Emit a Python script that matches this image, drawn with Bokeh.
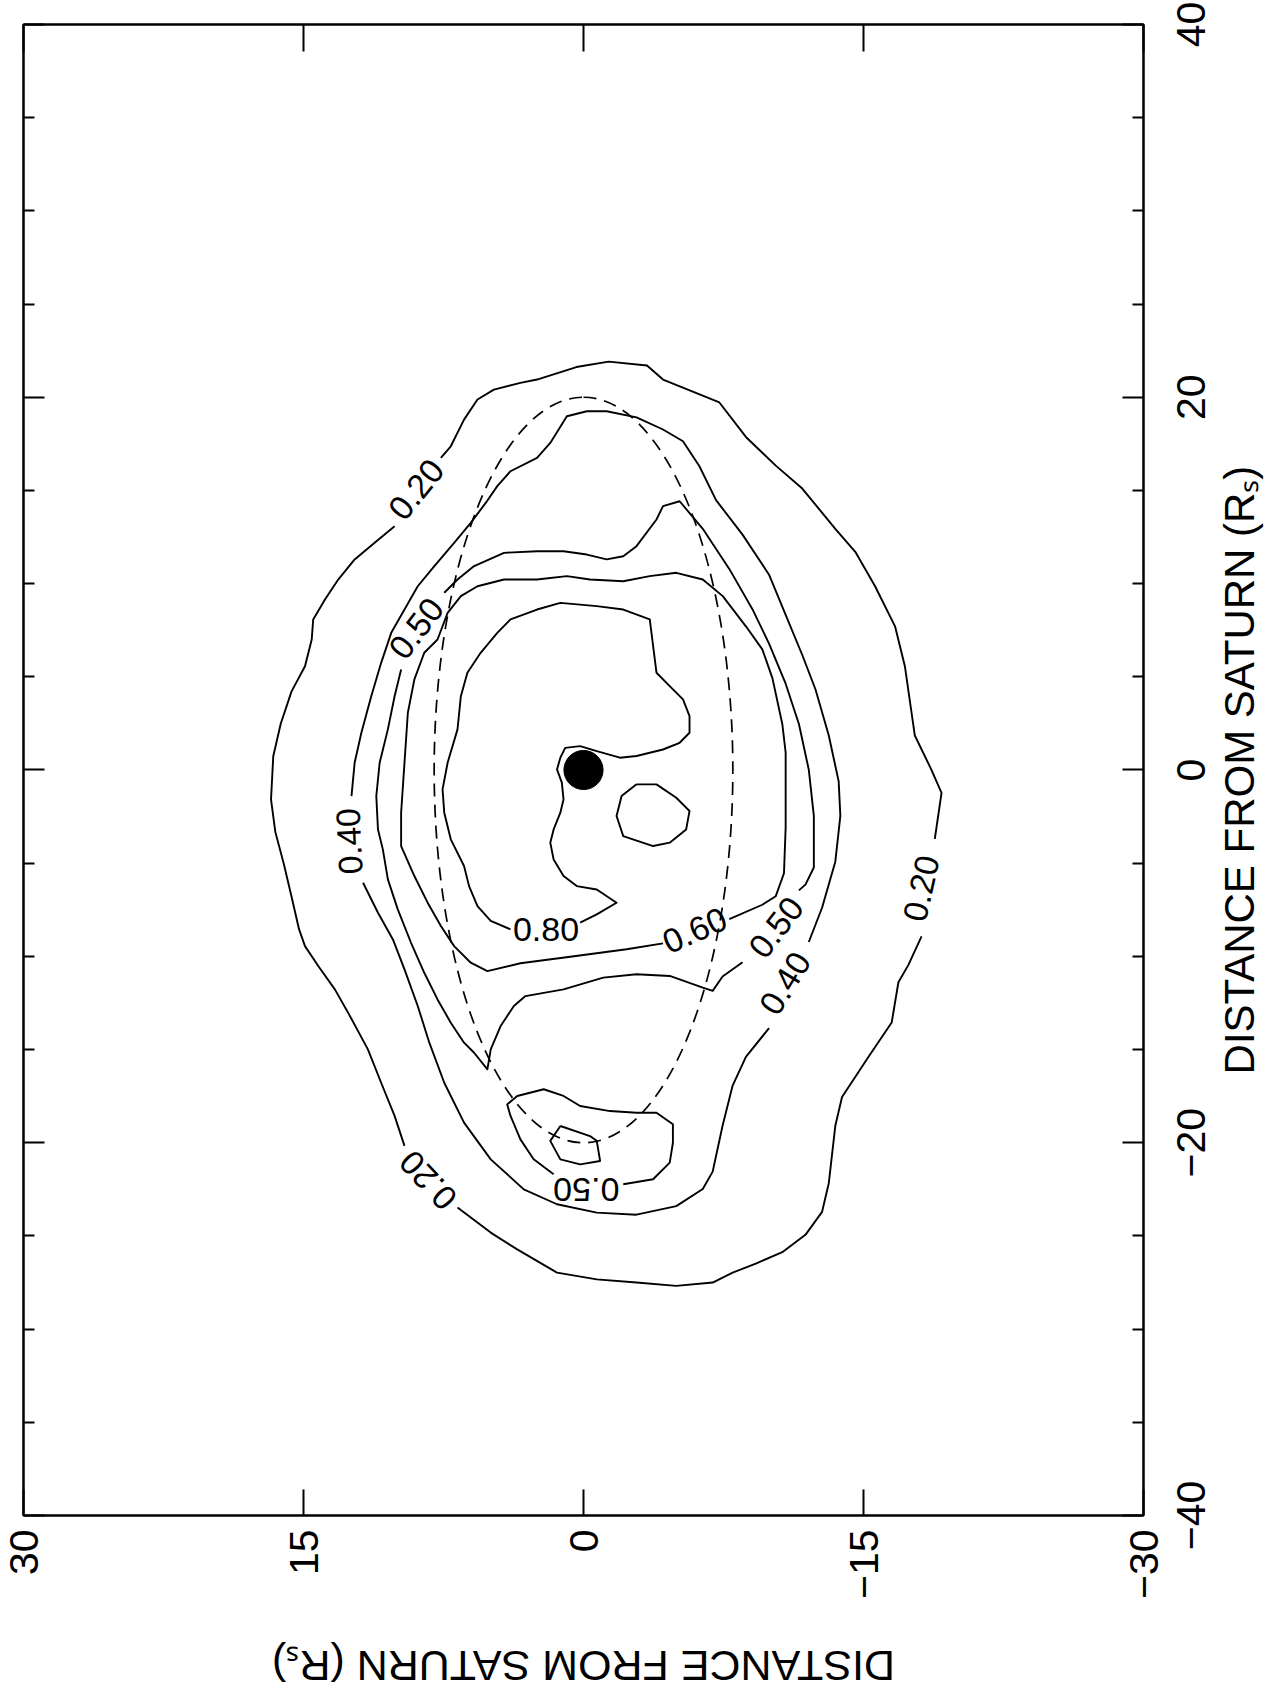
import math
from bokeh.plotting import figure
from bokeh.models import Range1d, LinearAxis, FixedTicker, ColumnDataSource
from bokeh.embed import file_html
from bokeh.resources import INLINE
from bokeh.core.properties import value

# The reference is a scanned page turned 90 degrees counter-clockwise.
# The chart is built in its original orientation and the whole (square) figure is turned with CSS.

# ---------------- axes (original orientation) ----------------
x_ticks = [-40, -20, 0, 20, 40]
x_tick_labels = ["\u221240", "\u221220", "0", "20", "40"]
x_minor_ticks = [-35, -30, -25, -15, -10, -5, 5, 10, 15, 25, 30, 35]
y_ticks = [30, 15, 0, -15, -30]
y_tick_labels = ["30", "15", "0", "\u221215", "\u221230"]
axis_title = "DISTANCE FROM SATURN (R\u209b)"

# ---------------- contour 0.20 (three pieces, gaps for labels) ----------------
c20a_x = [16.75, 17.37, 18.80, 19.88, 20.41, 20.77, 20.95, 21.62, 21.91, 21.70, 20.95, 19.72, 17.87, 16.33, 15.10,
          12.94, 11.71, 9.86, 7.71, 5.55, 1.85, 0.01, -1.23, -3.69]
c20a_y = [7.64, 7.11, 6.40, 5.68, 4.80, 3.38, 2.49, 0.38, -1.35, -3.40, -4.26, -7.28, -8.70, -10.30, -11.72,
          -13.49, -14.56, -15.62, -16.69, -17.22, -17.75, -18.64, -19.18, -18.82]
c20b_x = [-8.93, -10.47, -11.39, -13.55, -15.39, -17.55, -19.09, -22.17, -23.71, -24.94, -25.87, -26.48, -26.97,
          -27.50, -27.68, -27.50, -27.33, -26.97, -25.72, -24.82, -23.48]
c20b_y = [-18.11, -17.40, -16.87, -16.51, -15.27, -13.85, -13.49, -13.14, -12.78, -11.89, -10.65, -9.23, -7.99,
          -6.92, -4.97, -2.84, -0.71, 1.42, 3.55, 4.97, 6.75]
c20c_x = [-20.17, -18.56, -16.78, -14.99, -13.02, -11.77, -10.52, -9.45, -8.54, -6.80, -5.06, -3.32, -1.58, 0.74,
          2.48, 4.22, 5.57, 7.00, 8.08, 9.15, 10.22, 11.30, 12.19, 13.08]
c20c_y = [9.59, 10.12, 10.84, 11.55, 12.61, 13.32, 14.21, 14.92, 15.24, 15.64, 16.05, 16.51, 16.74, 16.62, 16.22,
          15.64, 14.92, 14.56, 14.48, 13.85, 13.14, 12.26, 11.19, 10.12]

# ---------------- contour 0.40 ----------------
c40a_x = [-1.40, 0.39, 2.00, 3.96, 5.75, 7.36, 8.61, 9.86, 10.94, 12.19, 13.26, 14.33, 15.23, 16.03, 16.75, 17.55,
          18.98, 19.25, 19.25, 18.92, 18.27, 17.64, 16.30, 14.48, 12.63, 10.48, 8.32, 6.17, 4.32, 1.85,
          -0.61, -2.46, -4.92, -7.39, -9.23]
c40a_y = [12.43, 12.26, 11.90, 11.37, 10.84, 10.30, 9.59, 8.88, 7.99, 6.93, 6.04, 5.24, 4.62, 3.91, 2.49, 1.78,
          0.89, -0.18, -1.24, -2.84, -4.26, -5.33, -6.21, -7.10, -8.52, -9.94, -10.83, -11.72, -12.43, -13.14,
          -13.67, -13.76, -13.49, -12.78, -12.07]
c40b_x = [-13.85, -15.39, -16.93, -19.09, -21.55, -22.48, -23.40, -23.86, -23.75, -23.30, -22.50, -20.89, -18.92,
          -16.78, -14.63, -12.66, -10.70, -9.09, -7.66, -6.05]
c40b_y = [-9.94, -8.70, -7.99, -7.45, -6.92, -6.39, -4.97, -2.84, -0.71, 1.42, 3.20, 4.97, 6.40, 7.46, 8.26,
          8.88, 9.59, 10.21, 11.01, 11.81]

# ---------------- contour 0.50 (main loop + southern lobe) ----------------
c50a_x = [9.51, 10.22, 10.94, 11.65, 11.74, 11.74, 11.56, 11.30, 11.47, 12.01, 13.44, 14.16, 14.42, 12.94, 10.79,
          8.63, 6.78, 4.63, 2.47, 0.01, -2.46, -5.23, -6.15, -6.46]
c50a_y = [7.46, 6.75, 5.86, 4.26, 2.49, 1.07, -0.18, -1.24, -2.13, -2.84, -3.91, -4.26, -5.15, -6.39, -7.81,
          -9.05, -9.94, -10.83, -11.54, -12.07, -12.34, -12.34, -11.89, -11.54]
c50b_x = [-10.31, -11.08, -11.85, -11.68, -11.05, -10.96, -11.14, -11.77, -12.13, -12.66, -13.74, -14.99, -16.06,
          -15.17, -14.63, -13.56, -12.31, -10.88, -9.27, -7.48, -5.87, -4.26, -3.19, -1.40, 0.39, 2.18, 3.96, 5.39]
c50b_y = [-8.52, -7.45, -6.92, -6.39, -4.62, -2.84, -1.06, 1.07, 3.11, 3.73, 4.44, 4.97, 5.15, 5.86, 6.40, 7.11,
          7.82, 8.53, 9.24, 9.95, 10.48, 10.75, 11.01, 11.10, 10.92, 10.48, 10.12, 9.77]
c50c_x = [-21.69, -20.89, -19.82, -18.56, -17.94, -17.49, -17.13, -17.49, -18.03, -18.30, -18.39, -18.39, -19.01,
          -20.00, -21.07, -21.96, -22.23]
c50c_y = [1.60, 2.67, 3.38, 3.91, 4.09, 3.55, 2.13, 1.07, 0.18, -1.42, -2.84, -3.91, -4.79, -4.79, -4.62, -3.73,
          -2.13]

# ---------------- contour 0.60 (main loop + small southern loop) ----------------
c60a_x = [-9.30, -9.62, -10.02, -10.37, -10.79, -10.34, -9.45, -8.37, -7.12, -5.69, -4.08, -2.29, 0.39, 3.07, 4.86,
          6.29, 7.00, 8.43, 9.33, 9.86, 10.22, 10.22, 10.40, 10.22, 10.13, 10.40, 10.58, 10.22, 9.33, 7.71, 6.47,
          4.93, 2.47, 0.93, -3.07, -5.54, -6.77, -7.23, -8.00]
c60a_y = [-4.26, -2.31, 0.71, 3.38, 5.15, 6.04, 6.93, 7.64, 8.35, 9.06, 9.77, 9.77, 9.59, 9.41, 9.06, 8.53, 7.82,
          7.28, 6.57, 5.68, 4.26, 2.49, 0.89, -0.35, -2.13, -3.55, -4.97, -6.39, -7.46, -8.70, -9.58, -10.12,
          -10.65, -10.83, -10.83, -10.74, -10.30, -9.58, -7.81]
c60b_x = [-19.10, -19.64, -19.90, -20.98, -21.16, -20.89, -19.90, -19.10]
c60b_y = [1.24, -0.35, -0.71, -0.89, 0.18, 1.24, 1.78, 1.24]

# ---------------- contour 0.80 ----------------
c80a_x = [-8.55, -8.10, -7.30, -6.23, -5.15, -3.72, -2.29, -1.04, 0.39, 2.18, 3.96, 5.22, 6.29, 7.36, 8.08, 8.61,
          8.97, 8.79, 8.61, 8.08, 6.65, 5.22, 4.50, 3.79, 2.89, 2.00, 1.46, 1.10, 0.75, 0.66, 1.01, 1.28,
          1.19, 0.66, 0.03, -0.68, -1.58, -2.29, -3.19, -3.90, -4.80, -5.69, -6.23, -6.41, -7.12, -7.75, -8.19]
c80a_y = [3.91, 4.97, 5.68, 6.13, 6.40, 7.11, 7.46, 7.55, 7.28, 6.75, 6.57, 6.22, 5.51, 4.62, 3.91, 2.49, 1.24,
          -0.71, -2.13, -3.55, -3.73, -3.91, -4.62, -5.33, -5.68, -5.68, -5.15, -4.26, -2.84, -1.95, -0.71, 0.18,
          0.98, 1.24, 1.42, 1.16, 1.07, 1.24, 1.60, 1.78, 1.60, 1.07, 0.36, -0.71, -1.77, -0.71, 0.18]
c80b_x = [-0.77, -0.77, -1.49, -2.20, -3.19, -3.90, -4.08, -3.55, -2.47, -1.40, -0.77]
c80b_y = [-2.84, -3.91, -4.97, -5.68, -5.50, -4.62, -3.73, -2.13, -1.77, -2.04, -2.84]

# ---------------- contour labels ----------------
lab_text = ["0.20", "0.20", "0.20", "0.40", "0.40", "0.50", "0.50", "0.50", "0.60", "0.80"]
lab_x = [15.05, -6.35, -22.00, -3.82, -11.45, 7.59, -8.45, -22.50, -8.61, -8.55]
lab_y = [8.95, -18.11, 8.31, 12.53, -10.81, 8.95, -10.33, -0.15, -5.96, 2.01]
lab_angle = [-0.68, -0.22, 0.75, 0.05, -0.55, -0.65, -0.66, 1.5708, -1.15, -1.5708]

# ---------------- model orbit (dashed ellipse) and Saturn ----------------
orbit_x0, orbit_y0 = 0.0, 0.0
orbit_width = 40.0    # full extent along x (R_s)
orbit_height = 16.0   # full extent along y (R_s)
saturn_x, saturn_y, saturn_r = 0.0, 0.0, 1.05

FONT = "Liberation Sans"
S = 1695                  # square canvas, so the turned box keeps its size
FW, FH = 1491, 1120       # frame size before the turn
B_LEFT, B_RIGHT = 179, 25
B_TOP = 442
B_BOTTOM = S - B_TOP - FH

p = figure(x_range=Range1d(-40, 40), y_range=Range1d(-30, 30),
           frame_width=FW, frame_height=FH,
           min_border_left=B_LEFT, min_border_right=B_RIGHT,
           min_border_top=B_TOP, min_border_bottom=B_BOTTOM,
           x_axis_location=None, y_axis_location=None,
           toolbar_location=None, output_backend="svg",
           background_fill_color="white", border_fill_color="white",
           outline_line_color="black", outline_line_width=2)
p.xgrid.visible = False
p.ygrid.visible = False
p.styles = {"transform": "translate(%dpx, %dpx) rotate(-90deg)" % (1276 - S, S),
            "transform-origin": "0 0"}

common = dict(axis_line_color="black", axis_line_width=2,
              major_tick_line_color="black", major_tick_line_width=2,
              minor_tick_line_color="black", minor_tick_line_width=2,
              major_label_text_font=FONT, major_label_text_color="black",
              axis_label_text_font=FONT, axis_label_text_font_style="normal",
              axis_label_text_color="black")

xaxis = LinearAxis(ticker=FixedTicker(ticks=x_ticks, minor_ticks=x_minor_ticks),
                   major_label_overrides=dict(zip(x_ticks, x_tick_labels)),
                   major_tick_in=21, major_tick_out=0, minor_tick_in=11, minor_tick_out=0,
                   major_label_text_font_size="41px", major_label_standoff=33,
                   axis_label=axis_title, axis_label_standoff=8, axis_label_text_font_size="42px", **common)
p.add_layout(xaxis, "below")

xaxis_top = LinearAxis(ticker=FixedTicker(ticks=x_ticks, minor_ticks=x_minor_ticks),
                       major_label_overrides={t: "" for t in x_ticks},
                       major_tick_in=21, major_tick_out=0, minor_tick_in=11, minor_tick_out=0,
                       major_label_text_font_size="1px", major_label_standoff=0, **common)
p.add_layout(xaxis_top, "above")

yaxis = LinearAxis(ticker=FixedTicker(ticks=y_ticks, minor_ticks=[]),
                   major_label_overrides=dict(zip(y_ticks, y_tick_labels)),
                   major_tick_in=26, major_tick_out=0, minor_tick_in=0, minor_tick_out=0,
                   major_label_text_font_size="41px", major_label_standoff=14,
                   axis_label=axis_title, axis_label_standoff=40, axis_label_text_font_size="43px", **common)
p.add_layout(yaxis, "left")

yaxis_right = LinearAxis(ticker=FixedTicker(ticks=y_ticks, minor_ticks=[]),
                         major_label_overrides={t: "" for t in y_ticks},
                         major_tick_in=27, major_tick_out=0, minor_tick_in=0, minor_tick_out=0,
                         major_label_text_font_size="1px", major_label_standoff=0, **common)
p.add_layout(yaxis_right, "right")

# contours
pieces_x = [c20a_x, c20b_x, c20c_x, c40a_x, c40b_x, c50a_x, c50b_x, c50c_x, c60a_x, c60b_x, c80a_x, c80b_x]
pieces_y = [c20a_y, c20b_y, c20c_y, c40a_y, c40b_y, c50a_y, c50b_y, c50c_y, c60a_y, c60b_y, c80a_y, c80b_y]
p.multi_line(xs=pieces_x, ys=pieces_y, line_color="black", line_width=1.9, line_join="round")

# model orbit (dashed)
p.ellipse(x=[orbit_x0], y=[orbit_y0], width=[orbit_width], height=[orbit_height],
          fill_color=None, line_color="black", line_width=1.7, line_dash="13 8")

# Saturn
p.circle(x=[saturn_x], y=[saturn_y], radius=saturn_r, fill_color="black", line_color="black")

# contour labels
src = ColumnDataSource(dict(x=lab_x, y=lab_y, text=lab_text, angle=lab_angle))
p.text(x="x", y="y", text="text", angle="angle", source=src,
       text_font=value(FONT), text_font_size=value("34px"),
       text_align="center", text_baseline="middle", text_color="black")

open("out.html", "w").write(file_html(p, INLINE))
